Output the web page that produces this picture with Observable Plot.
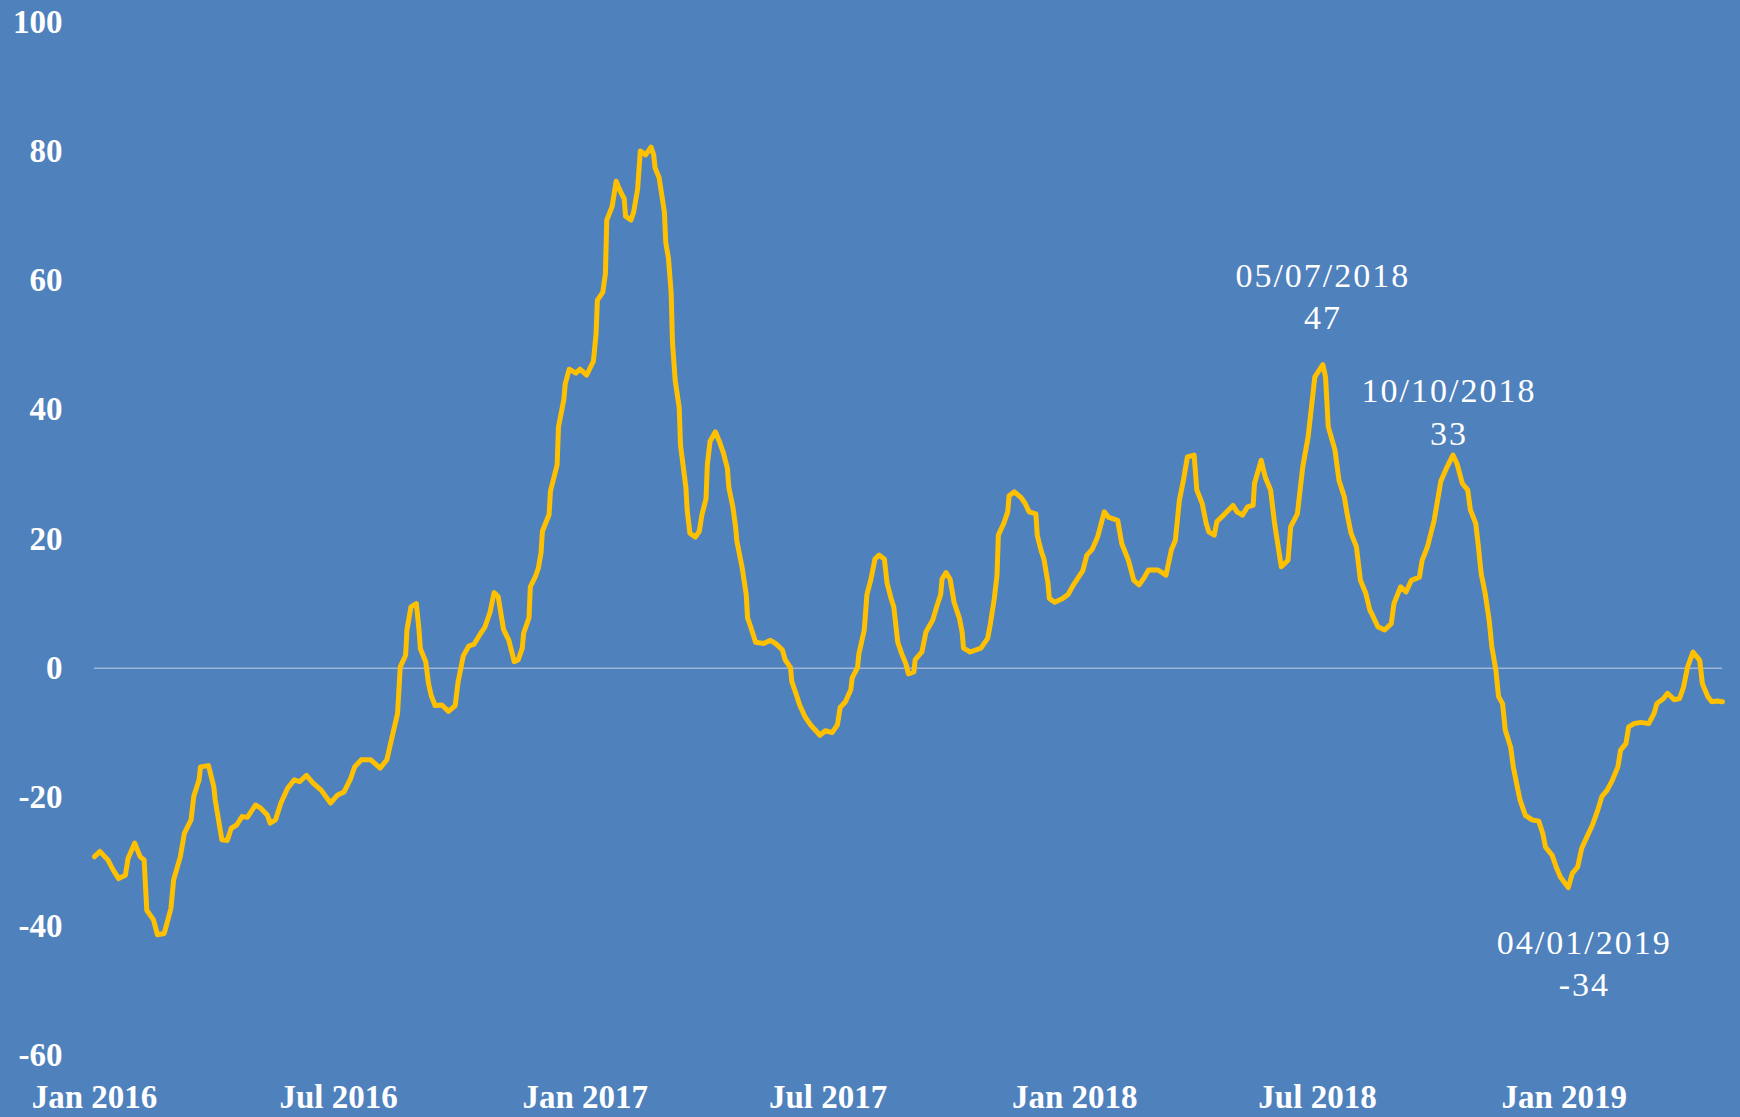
<!DOCTYPE html>
<html>
<head>
<meta charset="utf-8">
<script src="https://cdn.jsdelivr.net/npm/d3@7"></script>
<script src="https://cdn.jsdelivr.net/npm/@observablehq/plot@0.6"></script>
<style>
  html, body { margin: 0; padding: 0; background: #4f81bd; }
  #chart svg { display: block; }
  .ann text { letter-spacing: 2px; }
</style>
</head>
<body>
<div id="chart"></div>
<script>
const dates = [
"2016-01-01","2016-01-05","2016-01-11","2016-01-15","2016-01-19","2016-01-24","2016-01-26","2016-01-31",
"2016-02-04","2016-02-07","2016-02-09","2016-02-14","2016-02-17","2016-02-22","2016-02-27","2016-02-29",
"2016-03-05","2016-03-08","2016-03-13","2016-03-15","2016-03-19","2016-03-20","2016-03-26","2016-03-30","2016-03-31",
"2016-04-05","2016-04-09","2016-04-12","2016-04-16","2016-04-20","2016-04-24","2016-04-30",
"2016-05-04","2016-05-09","2016-05-11","2016-05-15","2016-05-19","2016-05-24","2016-05-29",
"2016-06-02","2016-06-07","2016-06-12","2016-06-18","2016-06-25","2016-06-30",
"2016-07-05","2016-07-10","2016-07-13","2016-07-18","2016-07-25",
"2016-08-01","2016-08-06","2016-08-10","2016-08-14","2016-08-16","2016-08-20","2016-08-21","2016-08-24","2016-08-28","2016-08-30","2016-08-31",
"2016-09-04","2016-09-06","2016-09-08","2016-09-11","2016-09-16","2016-09-21","2016-09-26","2016-09-28",
"2016-10-02","2016-10-06","2016-10-10","2016-10-15","2016-10-18","2016-10-22","2016-10-25","2016-10-28",
"2016-11-01","2016-11-05","2016-11-09","2016-11-12","2016-11-15","2016-11-16","2016-11-20","2016-11-21","2016-11-25","2016-11-27","2016-11-29","2016-11-30",
"2016-12-05","2016-12-06","2016-12-11","2016-12-12","2016-12-16","2016-12-17","2016-12-20","2016-12-25","2016-12-28",
"2017-01-02","2017-01-07","2017-01-09","2017-01-10","2017-01-14","2017-01-16","2017-01-17","2017-01-21","2017-01-24","2017-01-27","2017-01-30","2017-01-31",
"2017-02-04","2017-02-06","2017-02-09","2017-02-11","2017-02-15","2017-02-19","2017-02-21","2017-02-22","2017-02-25",
"2017-03-01","2017-03-02","2017-03-04","2017-03-06","2017-03-07","2017-03-09","2017-03-12","2017-03-13","2017-03-17","2017-03-18","2017-03-20","2017-03-24","2017-03-27","2017-03-29",
"2017-04-01","2017-04-02","2017-04-04","2017-04-08","2017-04-11","2017-04-14","2017-04-17","2017-04-18","2017-04-21","2017-04-23","2017-04-24","2017-04-28",
"2017-05-01","2017-05-02","2017-05-04","2017-05-08","2017-05-14","2017-05-19","2017-05-23","2017-05-28","2017-05-30",
"2017-06-03","2017-06-04","2017-06-07","2017-06-10","2017-06-14","2017-06-18","2017-06-22","2017-06-25","2017-06-29",
"2017-07-04","2017-07-08","2017-07-10","2017-07-14","2017-07-18","2017-07-19","2017-07-23","2017-07-24","2017-07-28","2017-07-30",
"2017-08-02","2017-08-05","2017-08-08","2017-08-12","2017-08-14","2017-08-17","2017-08-19","2017-08-22","2017-08-25","2017-08-28","2017-08-30",
"2017-09-03","2017-09-04","2017-09-09","2017-09-12","2017-09-17","2017-09-20","2017-09-23","2017-09-24","2017-09-27","2017-09-30",
"2017-10-03","2017-10-07","2017-10-09","2017-10-10","2017-10-15","2017-10-23","2017-10-28","2017-10-30",
"2017-11-02","2017-11-04","2017-11-05","2017-11-09","2017-11-12","2017-11-13","2017-11-17","2017-11-22","2017-11-25","2017-11-28",
"2017-12-03","2017-12-04","2017-12-07","2017-12-09","2017-12-12","2017-12-13","2017-12-17","2017-12-23","2017-12-27","2017-12-31",
"2018-01-07","2018-01-10","2018-01-14","2018-01-18","2018-01-23","2018-01-26",
"2018-02-02","2018-02-05","2018-02-10","2018-02-14","2018-02-18","2018-02-22","2018-02-25",
"2018-03-04","2018-03-10","2018-03-14","2018-03-17","2018-03-20","2018-03-23","2018-03-26","2018-03-31",
"2018-04-02","2018-04-06","2018-04-09","2018-04-11","2018-04-15","2018-04-17","2018-04-22","2018-04-29",
"2018-05-02","2018-05-06","2018-05-10","2018-05-14","2018-05-15","2018-05-20","2018-05-23","2018-05-27","2018-05-30",
"2018-06-04","2018-06-09","2018-06-11","2018-06-16","2018-06-20","2018-06-24","2018-06-29",
"2018-07-05","2018-07-07","2018-07-09","2018-07-14","2018-07-17","2018-07-21","2018-07-23","2018-07-26","2018-07-30",
"2018-08-02","2018-08-06","2018-08-09","2018-08-11","2018-08-15","2018-08-20","2018-08-25","2018-08-27",
"2018-09-01","2018-09-05","2018-09-09","2018-09-15","2018-09-17","2018-09-21","2018-09-26",
"2018-10-01","2018-10-05","2018-10-10","2018-10-13","2018-10-17","2018-10-21","2018-10-23","2018-10-27","2018-10-29","2018-10-31",
"2018-11-03","2018-11-06","2018-11-08","2018-11-11","2018-11-13","2018-11-16","2018-11-18","2018-11-22","2018-11-24","2018-11-27","2018-11-29",
"2018-12-03","2018-12-08","2018-12-13","2018-12-16","2018-12-18","2018-12-23","2018-12-26","2018-12-29",
"2019-01-04","2019-01-07","2019-01-11","2019-01-14","2019-01-18","2019-01-22","2019-01-26","2019-01-29",
"2019-02-02","2019-02-06","2019-02-10","2019-02-12","2019-02-16","2019-02-18","2019-02-22","2019-02-27",
"2019-03-05","2019-03-09","2019-03-11","2019-03-16","2019-03-19","2019-03-24","2019-03-28","2019-03-31",
"2019-04-03","2019-04-07","2019-04-12","2019-04-14","2019-04-18","2019-04-21","2019-04-25","2019-04-29"
];
const values = [
-29.2,-28.4,-29.7,-31.3,-32.6,-32.1,-29.5,-27.1,
-29.2,-29.7,-37.5,-39.0,-41.3,-41.1,-37.2,-32.8,
-29.2,-25.6,-23.5,-19.9,-17.3,-15.3,-15.1,-18.4,-20.4,
-26.6,-26.7,-24.8,-24.3,-23.0,-23.1,-21.2,
-21.7,-22.8,-24.0,-23.5,-20.9,-18.6,-17.3,
-17.6,-16.6,-17.8,-18.9,-20.9,-19.7,
-19.2,-17.1,-15.3,-14.2,-14.2,
-15.5,-14.2,-10.6,-7.0,0.2,2.0,5.9,9.5,10.0,5.9,3.0,
1.0,-2.3,-4.2,-5.8,-5.7,-6.7,-5.8,-2.3,
1.9,3.4,3.7,5.4,6.3,8.7,11.7,11.1,
6.0,4.3,1.0,1.3,3.1,5.4,7.8,12.6,14.3,15.5,17.9,21.2,
23.8,27.4,31.5,37.4,41.6,44.0,46.3,45.7,46.3,
45.4,47.5,51.7,57.0,58.2,61.1,69.4,71.5,75.4,73.9,72.7,70.0,
69.4,70.6,74.2,80.1,79.5,80.7,79.5,77.5,76.0,
70.6,65.9,63.5,58.2,50.5,44.6,40.4,34.5,28.0,24.4,20.9,20.3,21.2,23.8,
26.2,31.5,35.1,36.6,35.1,33.3,30.9,28.0,25.0,22.0,19.7,15.5,
11.4,7.8,6.6,4.0,3.8,4.3,3.8,2.8,1.3,
0.1,-2.1,-3.9,-5.8,-7.6,-8.8,-9.7,-10.4,-9.7,
-10.0,-8.8,-6.1,-5.2,-3.3,-1.5,0.1,2.2,5.9,11.4,
13.8,16.9,17.5,16.9,13.2,10.8,9.5,4.0,2.2,0.7,-0.9,
-0.6,1.3,2.5,5.6,7.4,9.5,11.4,13.8,14.8,13.8,
10.2,7.7,5.6,3.1,2.5,3.1,4.6,6.8,
10.8,14.4,20.6,22.4,24.2,26.7,27.3,26.4,25.5,24.2,
23.9,20.6,18.1,16.9,13.2,10.8,10.2,10.8,11.4,12.9,
15.1,17.5,18.4,20.3,24.2,23.4,
22.9,19.3,16.7,13.6,12.9,14.1,15.2,
15.2,14.4,18.3,19.8,26.0,29.1,32.7,33.0,
27.6,25.5,22.4,21.1,20.6,22.7,23.7,25.2,
24.2,23.7,25.0,25.2,28.6,32.2,29.6,27.6,22.4,
15.7,16.7,21.9,23.9,31.2,35.8,45.1,
47.0,45.1,37.4,33.8,29.1,26.5,24.0,20.9,18.8,
13.6,11.6,9.0,8.2,6.4,5.9,6.9,10.0,
12.6,11.8,13.6,14.1,16.7,18.8,22.9,
29.0,30.9,33.0,31.7,28.6,27.6,24.5,22.4,18.8,14.7,
11.6,7.4,3.3,-0.3,-4.4,-5.5,-9.6,-12.2,-15.3,-18.4,-20.4,
-22.8,-23.5,-23.7,-25.6,-27.7,-29.0,-30.8,-32.3,
-34.0,-31.8,-30.8,-27.9,-26.1,-24.3,-22.0,-19.9,
-18.9,-17.3,-15.3,-12.7,-11.7,-9.1,-8.6,-8.4,
-8.6,-7.0,-5.5,-4.7,-3.9,-4.9,-4.7,-2.9,
0.2,2.5,1.2,-2.4,-4.4,-5.2,-5.1,-5.2
];

const xTickDates = ["2016-01-01","2016-07-01","2017-01-01","2017-07-01","2018-01-01","2018-07-01","2019-01-01"];
const xTickLabels = ["Jan 2016","Jul 2016","Jan 2017","Jul 2017","Jan 2018","Jul 2018","Jan 2019"];
const yTicks = [-60, -40, -20, 0, 20, 40, 60, 80, 100];
const annDates = ["2018-07-05","2018-10-10","2019-01-04"];
const annValues = [47, 33, -34];

const parse = d3.utcParse("%Y-%m-%d");
const fmtDate = d3.utcFormat("%d/%m/%Y");
const series = dates.map((d, i) => ({date: parse(d), value: values[i]}));
const ann = annDates.map((d, i) => ({date: parse(d), value: annValues[i], label: fmtDate(parse(d)) + "\n" + annValues[i]}));
const tickDates = xTickDates.map(parse);
const tickLabelOf = new Map(tickDates.map((d, i) => [+d, xTickLabels[i]]));

const tickFont = {fontFamily: "'Liberation Serif', 'Times New Roman', serif", fontSize: 33, fontWeight: "bold"};
const annFont = {fontFamily: "'Liberation Serif', 'Times New Roman', serif", fontSize: 34, lineHeight: 1.24, fill: "#ffffff", className: "ann"};

const chart = Plot.plot({
  width: 1740,
  height: 1117,
  marginLeft: 94,
  marginRight: 18,
  marginTop: 22,
  marginBottom: 62,
  style: {background: "#4f81bd", color: "#ffffff", fontFamily: "'Liberation Serif', serif", fontSize: "33px", overflow: "visible"},
  x: {type: "utc", domain: [parse("2016-01-01"), parse("2019-04-29")]},
  y: {domain: [-60, 100]},
  marks: [
    Plot.ruleY([0], {stroke: "#9fb5d8", strokeWidth: 1.5}),
    Plot.axisY({ticks: yTicks, tickSize: 0, tickPadding: 32, label: null, tickFormat: d => String(d), ...tickFont}),
    Plot.axisX({ticks: tickDates, tickSize: 0, tickPadding: 29, label: null, tickFormat: d => tickLabelOf.get(+d), ...tickFont}),
    Plot.line(series, {x: "date", y: "value", stroke: "#ffc000", strokeWidth: 5, strokeLinejoin: "round", strokeLinecap: "round"}),
    Plot.text([ann[0]], {x: "date", y: "value", text: "label", dy: -70, ...annFont}),
    Plot.text([ann[1]], {x: "date", y: "value", text: "label", dy: -45, dx: -4, ...annFont}),
    Plot.text([ann[2]], {x: "date", y: "value", text: "label", dy: 74, dx: 16, ...annFont})
  ]
});
document.getElementById("chart").appendChild(chart);
</script>
</body>
</html>
